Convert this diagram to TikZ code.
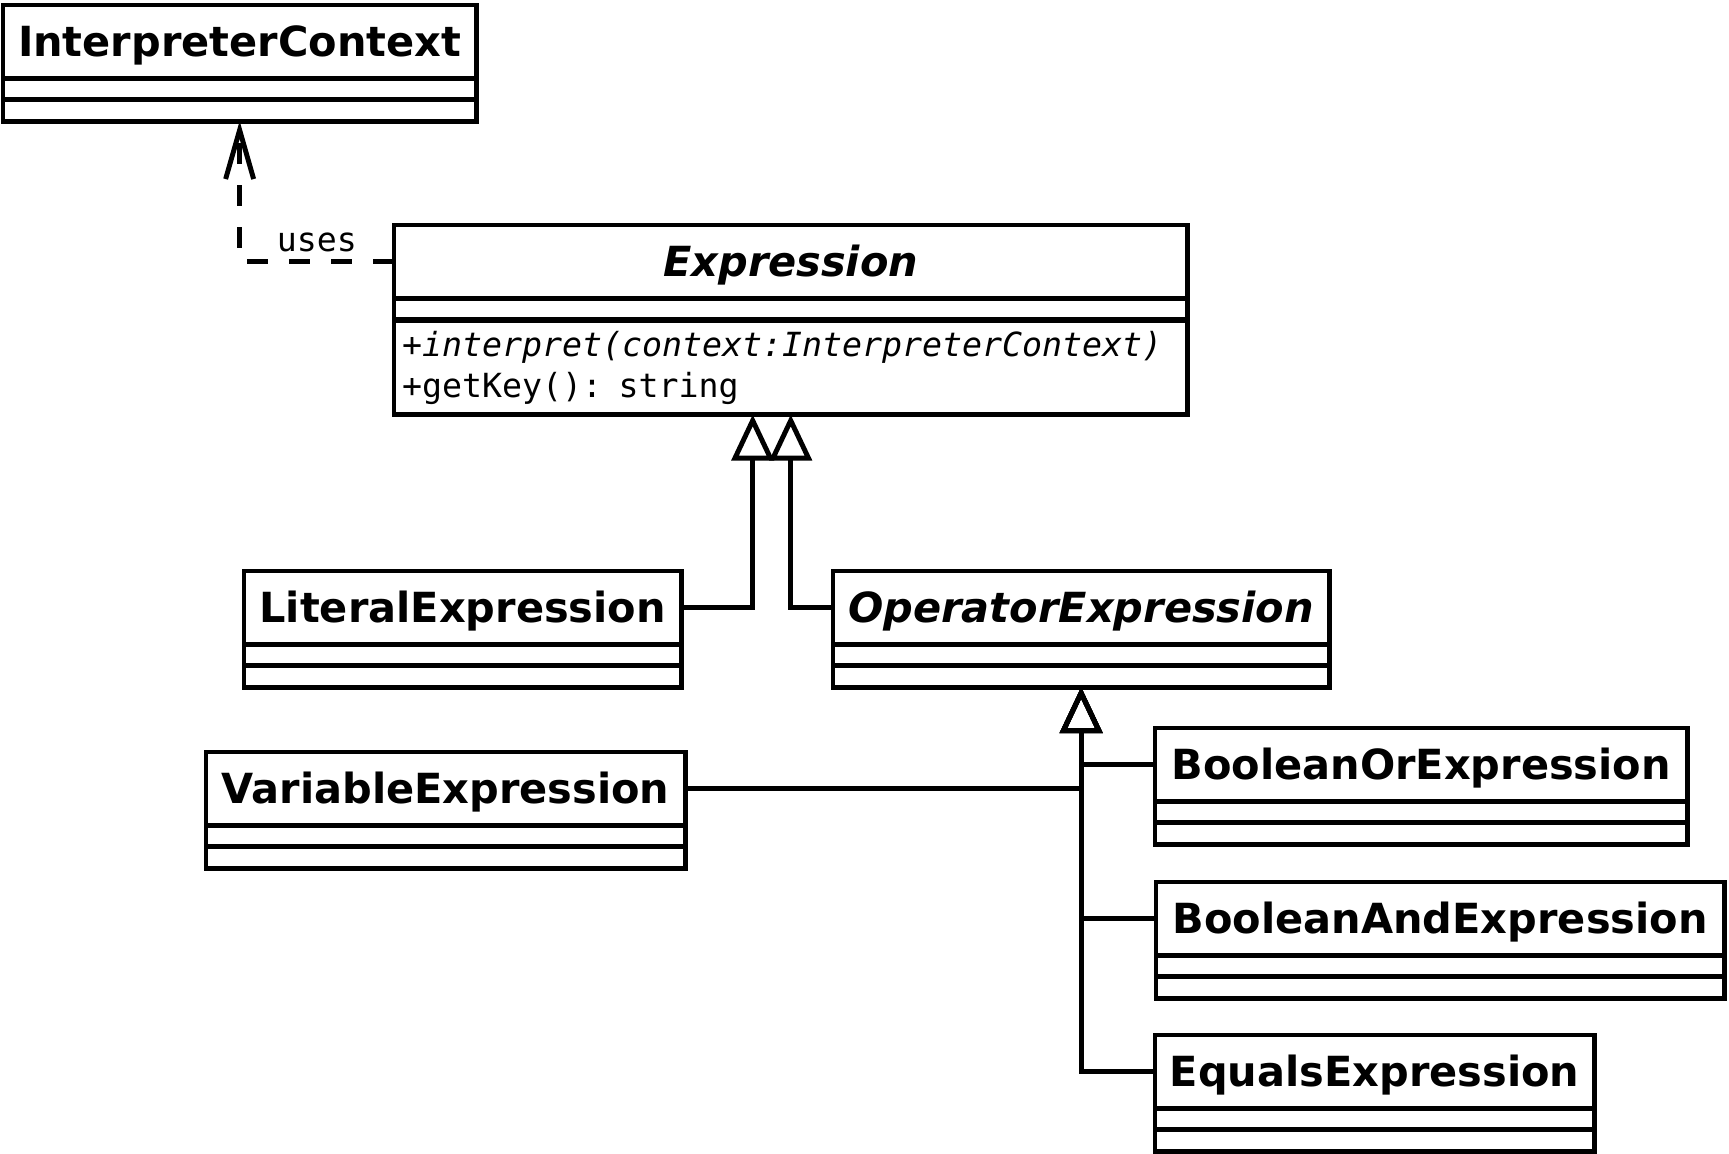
\documentclass[tikz,border=0pt]{standalone}
\usepackage{fontspec}
\setmainfont{DejaVu Sans}
\setmonofont{DejaVu Sans Mono}
\usetikzlibrary{arrows.meta}

\tikzset{
    classname/.style={draw, line width=1.4pt, outer sep=0pt, inner sep=0pt,
        anchor=north west, minimum height=0.73cm, text height=0.38cm, text depth=0.09cm,
        font=\fontsize{11.8}{14}\selectfont\bfseries},
    slot/.style={draw, line width=1.4pt, outer sep=0pt, inner sep=0pt,
        anchor=north, minimum height=0.215cm},
    inherits/.style={line width=1.4pt, -{Triangle[open, length=4.6mm, width=4.2mm]}},
    uses/.style={line width=1.4pt, dash pattern=on 0.21cm off 0.21cm,
        -{Straight Barb[length=4.9mm, width=2.8mm]}},
}

\begin{document}
\begin{tikzpicture}[x=0.01cm, y=-0.01cm]
    \useasboundingbox (0, 0) rectangle (1729, 1154);

    % classes
    \node[classname, minimum width=4.73cm] (ictx) at (3, 5) {InterpreterContext};
    \node[slot, minimum width=4.73cm] (ictx-a) at (ictx.south) {};
    \node[slot, minimum width=4.73cm] (ictx-b) at (ictx-a.south) {};

    \node[classname, minimum width=7.93cm] (expr) at (394, 225) {\itshape Expression};
    \node[slot, minimum width=7.93cm] (expr-a) at (expr.south) {};
    \node[slot, minimum height=0.94cm, inner xsep=0.08cm, text width=7.77cm,
        align=left, font=\ttfamily\fontsize{9.45}{11.6}\selectfont]
        (expr-b) at ([yshift=-0.01cm]expr-a.south)
        {+\textit{interpret(context:InterpreterContext)}\\+getKey(): string};

    \node[classname, minimum width=4.37cm] (lit) at (244, 571) {LiteralExpression};
    \node[slot, minimum width=4.37cm] (lit-a) at (lit.south) {};
    \node[slot, minimum width=4.37cm] (lit-b) at (lit-a.south) {};

    \node[classname, minimum width=4.96cm] (op) at (833, 571) {\itshape OperatorExpression};
    \node[slot, minimum width=4.96cm] (op-a) at (op.south) {};
    \node[slot, minimum width=4.96cm] (op-b) at (op-a.south) {};

    \node[classname, minimum width=4.79cm] (var) at (206, 752) {VariableExpression};
    \node[slot, minimum width=4.79cm] (var-a) at (var.south) {};
    \node[slot, minimum width=4.79cm] (var-b) at (var-a.south) {};

    \node[classname, minimum width=5.32cm] (bor) at (1155, 728) {BooleanOrExpression};
    \node[slot, minimum width=5.32cm] (bor-a) at (bor.south) {};
    \node[slot, minimum width=5.32cm] (bor-b) at (bor-a.south) {};

    \node[classname, minimum width=5.68cm] (band) at (1156, 882) {BooleanAndExpression};
    \node[slot, minimum width=5.68cm] (band-a) at (band.south) {};
    \node[slot, minimum width=5.68cm] (band-b) at (band-a.south) {};

    \node[classname, minimum width=4.39cm] (eq) at (1155, 1035) {EqualsExpression};
    \node[slot, minimum width=4.39cm] (eq-a) at (eq.south) {};
    \node[slot, minimum width=4.39cm] (eq-b) at (eq-a.south) {};

    % relations
    \draw[uses] (expr.west) -| node[pos=0.25, above, inner sep=2pt,
        font=\ttfamily\fontsize{9.45}{11}\selectfont] {uses} (ictx-b.south);
    \draw[inherits] (lit.east) -| ([xshift=-0.38cm]expr-b.south);
    \draw[inherits] (op.west) -| (expr-b.south);
    \draw[inherits] (var.east) -| (op-b.south);
    \draw[inherits] (bor.west) -| (op-b.south);
    \draw[inherits] (band.west) -| (op-b.south);
    \draw[inherits] (eq.west) -| (op-b.south);
\end{tikzpicture}
\end{document}
